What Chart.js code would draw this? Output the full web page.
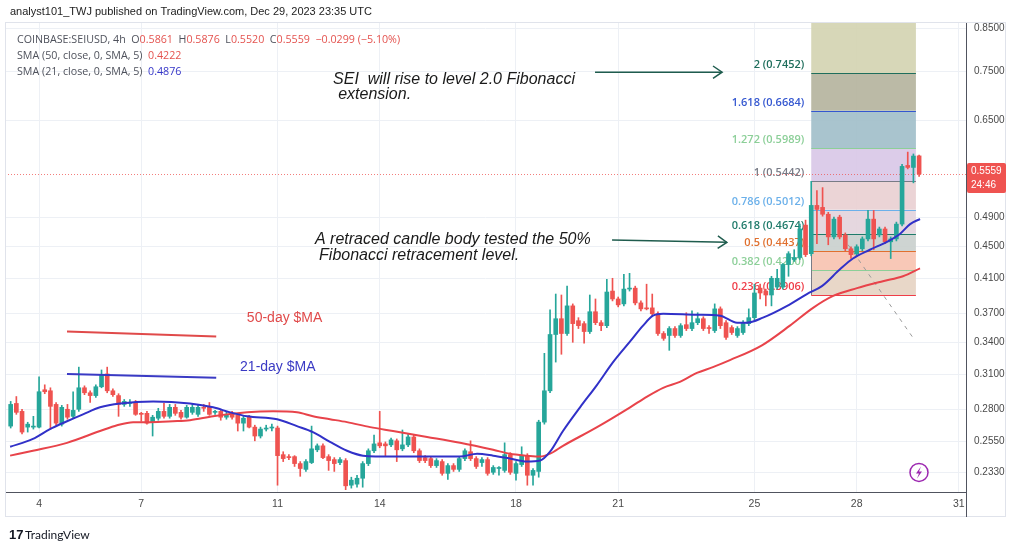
<!DOCTYPE html>
<html>
<head>
<meta charset="utf-8">
<script src="https://cdn.jsdelivr.net/npm/chart.js@4.4.1/dist/chart.umd.min.js"></script>
<style>
    html, body { margin: 0; padding: 0; background: #ffffff; }
    #wrap { position: relative; width: 1024px; height: 551px; }
</style>
</head>
<body>
<div id="wrap"><canvas id="seiChart" width="1024" height="551"></canvas></div>
<script>
// axis ticks
const dayTicks = [4, 7, 11, 14, 18, 21, 25, 28, 31];
const priceTicks = [0.85, 0.75, 0.65, 0.49, 0.45, 0.41, 0.37, 0.34, 0.31, 0.28, 0.255, 0.233];

// 4h candles, first one is Dec 3 04:00 (x axis is the day of December)
const candleStart = 3 + 4 / 24;
const candleStep = 4 / 24;

const openPrices = [
    .2666, .2848, .2783, .2658, .2658, .2658, .2964, .2955, .2840, .2681,
    .2800, .2743, .2800, .2981, .2938, .2914, .2990, .3104, .2955, .2914,
    .2840, .2848, .2856, .2767, .2767, .2697, .2728, .2783, .2743, .2816,
    .2775, .2736, .2775, .2759, .2816, .2824, .2775, .2783, .2736, .2767,
    .2751, .2689, .2736, .2658, .2590, .2643, .2651, .2651, .2453, .2439,
    .2439, .2390, .2350, .2397, .2488, .2517, .2439, .2418, .2397, .2411,
    .2244, .2251, .2290, .2390, .2481, .2539, .2531, .2524, .2554, .2495,
    .2524, .2583, .2481, .2432, .2425, .2376, .2404, .2323, .2376, .2350,
    .2425, .2474, .2425, .2397, .2418, .2330, .2356, .2343, .2453, .2323,
    .2383, .2446, .2310, .2336, .2697, .2955, .3482, .3646, .3492, .3785,
    .3625, .3594, .3512, .3721, .3604, .3573, .3952, .3862, .3807, .3975,
    .3986, .3818, .3763, .3763, .3699, .3492, .3472, .3543, .3472, .3583,
    .3543, .3604, .3646, .3553, .3522, .3752, .3604, .3553, .3472, .3502,
    .3594, .3657, .3986, .3952, .3907, .3998, .3998, .4270, .4333, .4358,
    .4790, .4407, .5073, .5044, .4944, .4628, .4902, .4655, .4471, .4407,
    .4471, .4601, .4874, .4655, .4736, .4562, .4601, .4804, .5700, .5667,
    .5861
];
const highPrices = [
    .2865, .2906, .2800, .2696, .2743, .3077, .3007, .2981, .2856, .2832,
    .2840, .2947, .3166, .2998, .2955, .3007, .3140, .3166, .2972, .2930,
    .2881, .2881, .2873, .2775, .2783, .2751, .2808, .2848, .2840, .2840,
    .2791, .2832, .2840, .2832, .2840, .2856, .2791, .2791, .2775, .2783,
    .2759, .2743, .2751, .2673, .2658, .2673, .2681, .2666, .2474, .2453,
    .2446, .2404, .2418, .2666, .2531, .2531, .2453, .2432, .2432, .2425,
    .2297, .2310, .2404, .2495, .2597, .2783, .2546, .2575, .2568, .2636,
    .2605, .2597, .2495, .2446, .2439, .2425, .2418, .2390, .2390, .2439,
    .2495, .2554, .2439, .2432, .2432, .2376, .2370, .2539, .2467, .2404,
    .2510, .2460, .2356, .2712, .3296, .3741, .3918, .3907, .4009, .3807,
    .3657, .3615, .3907, .3862, .3625, .4090, .4102, .3884, .4150, .4162,
    .4009, .3840, .4032, .3918, .3721, .3512, .3563, .3563, .3594, .3710,
    .3731, .3710, .3667, .3573, .3807, .3774, .3625, .3573, .3563, .3625,
    .3752, .4032, .4032, .3975, .4126, .4210, .4283, .4433, .4458, .4804,
    .4860, .5442, .5298, .5343, .4972, .4902, .4930, .4682, .4497, .4523,
    .4628, .4999, .4999, .4763, .4763, .4628, .4832, .5717, .5926, .5894,
    .5876
];
const lowPrices = [
    .2651, .2759, .2605, .2620, .2643, .2651, .2930, .2643, .2673, .2666,
    .2720, .2728, .2783, .2922, .2856, .2898, .2981, .2938, .2906, .2743,
    .2824, .2824, .2751, .2704, .2681, .2590, .2712, .2728, .2728, .2751,
    .2720, .2728, .2759, .2743, .2783, .2751, .2759, .2712, .2720, .2720,
    .2628, .2628, .2651, .2554, .2575, .2628, .2628, .2244, .2404, .2418,
    .2370, .2303, .2336, .2390, .2474, .2425, .2343, .2336, .2383, .2215,
    .2225, .2231, .2231, .2376, .2467, .2503, .2446, .2510, .2404, .2481,
    .2510, .2467, .2397, .2397, .2363, .2363, .2310, .2283, .2336, .2336,
    .2411, .2411, .2356, .2370, .2310, .2316, .2310, .2330, .2316, .2277,
    .2370, .2244, .2244, .2297, .2681, .2938, .3213, .3287, .3472, .3404,
    .3543, .3394, .3492, .3583, .3522, .3553, .3840, .3774, .3785, .3952,
    .3796, .3731, .3741, .3678, .3472, .3423, .3325, .3453, .3453, .3522,
    .3522, .3583, .3522, .3492, .3502, .3543, .3433, .3482, .3453, .3482,
    .3573, .3636, .3862, .3785, .3785, .3975, .3975, .4126, .4308, .4333,
    .4370, .4380, .4536, .4916, .4523, .4601, .4601, .4445, .4345, .4383,
    .4445, .4574, .4458, .4628, .4536, .4345, .4574, .4777, .5643, .5418,
    .5520
];
const closePrices = [
    .2840, .2775, .2620, .2681, .2666, .2947, .2947, .2824, .2689, .2816,
    .2736, .2791, .2981, .2938, .2914, .2990, .3095, .2955, .2922, .2840,
    .2865, .2856, .2759, .2759, .2689, .2736, .2783, .2743, .2816, .2767,
    .2736, .2816, .2816, .2816, .2808, .2759, .2783, .2736, .2759, .2736,
    .2689, .2728, .2658, .2590, .2643, .2651, .2658, .2446, .2425, .2432,
    .2390, .2356, .2404, .2495, .2517, .2432, .2411, .2390, .2418, .2240,
    .2277, .2290, .2390, .2481, .2531, .2517, .2517, .2561, .2488, .2524,
    .2583, .2481, .2411, .2411, .2376, .2411, .2323, .2376, .2350, .2425,
    .2481, .2425, .2370, .2418, .2323, .2363, .2363, .2453, .2330, .2390,
    .2446, .2310, .2343, .2697, .2955, .3482, .3646, .3492, .3785, .3594,
    .3573, .3512, .3721, .3604, .3573, .3941, .3862, .3796, .3975, .3986,
    .3818, .3752, .3752, .3699, .3492, .3443, .3543, .3472, .3573, .3543,
    .3604, .3646, .3543, .3543, .3752, .3573, .3453, .3502, .3543, .3604,
    .3657, .3930, .3930, .3907, .4102, .4102, .4270, .4407, .4358, .4736,
    .4395, .5073, .5014, .4944, .4628, .4874, .4628, .4471, .4395, .4497,
    .4601, .4874, .4601, .4736, .4562, .4601, .4804, .5684, .5667, .5858,
    .5559
];

// moving averages (day of December, price)
const sma50Days = [3.15, 3.82, 4.82, 5.79, 6.29, 6.76, 7.26, 7.93, 8.43, 9.11,
    10.11, 10.87, 11.57, 12.04, 12.54, 13.04, 13.72, 14.39, 15.39, 16.36,
    17.33, 17.82, 18.32, 18.71, 19.00, 19.38, 20.38, 21.35, 21.85, 22.32,
    22.81, 23.31, 23.78, 24.28, 25.22, 26.04, 26.72, 27.31, 28.01, 28.77,
    29.36, 29.86];
const sma50Values = [.2446, .2481, .2539, .2628, .2673, .2697, .2697, .2704, .2712, .2743,
    .2775, .2783, .2775, .2743, .2720, .2697, .2658, .2628, .2583, .2539,
    .2488, .2460, .2446, .2439, .2460, .2517, .2658, .2816, .2906, .2981,
    .3033, .3113, .3166, .3231, .3374, .3573, .3763, .3896, .3986, .4067,
    .4126, .4222];
const sma21Days = [3.15, 3.82, 4.32, 4.82, 5.29, 5.79, 6.38, 7.35, 8.43, 9.11,
    9.61, 10.11, 10.99, 11.57, 12.04, 12.54, 13.04, 13.51, 14.39, 15.39,
    16.36, 16.86, 17.33, 17.82, 18.32, 18.71, 19.00, 19.38, 19.88, 20.38,
    20.85, 21.35, 21.73, 22.02, 22.32, 23.31, 23.99, 24.49, 24.78, 25.25,
    25.96, 26.54, 26.98, 27.51, 27.89, 28.39, 28.89, 29.27, 29.57, 29.86];
const sma21Values = [.2510, .2568, .2643, .2704, .2759, .2816, .2848, .2865, .2848, .2816,
    .2775, .2743, .2720, .2666, .2620, .2546, .2481, .2446, .2439, .2439,
    .2439, .2460, .2446, .2425, .2404, .2411, .2474, .2628, .2816, .3007,
    .3213, .3413, .3573, .3678, .3699, .3688, .3678, .3604, .3604, .3657,
    .3785, .3918, .4009, .4210, .4345, .4458, .4562, .4668, .4804, .4876];

// fibonacci drawing
const fibLevels = [2.618, 2, 1.618, 1.272, 1, 0.786, 0.618, 0.5, 0.382, 0.236];
const fibPrices = [0.8694, 0.7452, 0.6684, 0.5989, 0.5442, 0.5012, 0.4674, 0.4437, 0.4200, 0.3906];
const fibStartDay = 26.667;
const fibEndDay = 29.74;

const upColor = '#26a69a';
const downColor = '#ef5350';
const fibFills = ['rgba(211,211,176,0.9)', 'rgba(180,179,156,0.9)', 'rgba(160,190,201,0.9)',
    'rgba(216,198,231,0.9)', 'rgba(233,207,210,0.9)', 'rgba(226,211,220,0.9)',
    'rgba(201,207,205,0.9)', 'rgba(247,194,175,0.9)', 'rgba(230,211,194,0.9)'];
const fibColors = ['#2e7d6b', '#1f6e5c', '#3457d0', '#8ccf98', '#787b86', '#6bb0ea',
    '#1f7a6a', '#e0702f', '#8ccf98', '#ef3d48'];

const candleTimes = openPrices.map((_, i) => candleStart + i * candleStep);
const candleColors = openPrices.map((o, i) => closePrices[i] >= o ? upColor : downColor);

function line(ctx, x0, y0, x1, y1) {
    ctx.beginPath();
    ctx.moveTo(x0, y0);
    ctx.lineTo(x1, y1);
    ctx.stroke();
}

function drawRuns(ctx, x, y, runs) {
    runs.forEach(run => {
        ctx.fillStyle = run[1];
        ctx.fillText(run[0], x, y);
        x += ctx.measureText(run[0]).width;
    });
}

function arrow(ctx, x0, y0, x1, y1) {
    line(ctx, x0, y0, x1, y1);
    const a = Math.atan2(y1 - y0, x1 - x0);
    ctx.beginPath();
    ctx.moveTo(x1 - 11 * Math.cos(a - 0.6), y1 - 11 * Math.sin(a - 0.6));
    ctx.lineTo(x1, y1);
    ctx.lineTo(x1 - 11 * Math.cos(a + 0.6), y1 - 11 * Math.sin(a + 0.6));
    ctx.stroke();
}

const chartOverlay = {
    id: 'chartOverlay',
    beforeDatasetsDraw(chart) {
        const ctx = chart.ctx;
        const area = chart.chartArea;
        const xs = chart.scales.x;
        const ys = chart.scales.y;
        ctx.save();
        ctx.beginPath();
        ctx.rect(area.left, area.top, area.right - area.left, area.bottom - area.top);
        ctx.clip();

        // fib bands
        const bx0 = xs.getPixelForValue(fibStartDay);
        const bx1 = xs.getPixelForValue(fibEndDay);
        for (let i = 0; i < fibPrices.length - 1; i++) {
            const y0 = ys.getPixelForValue(fibPrices[i]);
            const y1 = ys.getPixelForValue(fibPrices[i + 1]);
            ctx.fillStyle = fibFills[i];
            ctx.fillRect(bx0, y0, bx1 - bx0, y1 - y0);
        }
        ctx.lineWidth = 1;
        ctx.font = '600 11px "Open Sans"';
        ctx.textAlign = 'right';
        ctx.textBaseline = 'bottom';
        for (let i = 1; i < fibPrices.length; i++) {
            const y = Math.round(ys.getPixelForValue(fibPrices[i])) + 0.5;
            ctx.strokeStyle = fibColors[i];
            line(ctx, bx0, y, bx1, y);
            ctx.fillStyle = fibColors[i];
            ctx.fillText(fibLevels[i] + ' (' + fibPrices[i].toFixed(4) + ')', bx0 - 7, y - 3);
        }
        ctx.strokeStyle = '#787b86';
        line(ctx, Math.round(bx0) + 0.5, ys.getPixelForValue(fibPrices[4]),
            Math.round(bx0) + 0.5, ys.getPixelForValue(fibPrices[9]));

        // dashed trend line
        ctx.strokeStyle = '#9a9a9a';
        ctx.setLineDash([4, 5]);
        line(ctx, xs.getPixelForValue(27.75), ys.getPixelForValue(0.4523),
            xs.getPixelForValue(29.71), ys.getPixelForValue(0.3422));

        // last price line
        const lastClose = closePrices[closePrices.length - 1];
        const py = Math.round(ys.getPixelForValue(lastClose)) + 0.5;
        ctx.strokeStyle = 'rgba(239,83,80,0.75)';
        ctx.setLineDash([1, 2]);
        line(ctx, area.left, py, area.right, py);
        ctx.restore();
    },
    afterDraw(chart) {
        const ctx = chart.ctx;
        const area = chart.chartArea;
        const xs = chart.scales.x;
        const ys = chart.scales.y;
        const at = (d, p) => [xs.getPixelForValue(d), ys.getPixelForValue(p)];
        ctx.save();

        // frame
        ctx.strokeStyle = '#e0e3eb';
        ctx.lineWidth = 1;
        ctx.strokeRect(5.5, 22.5, 1000, 494);
        ctx.strokeStyle = '#50535e';
        line(ctx, area.right + 0.5, area.bottom, area.right + 0.5, 517);

        // header
        ctx.textAlign = 'left';
        ctx.textBaseline = 'middle';
        ctx.font = '11px "Liberation Sans"';
        ctx.fillStyle = '#222';
        ctx.fillText('analyst101_TWJ published on TradingView.com, Dec 29, 2023 23:35 UTC', 10, 12);

        // legend
        const n = closePrices.length - 1;
        const chg = closePrices[n] - closePrices[n - 1];
        const pct = chg / closePrices[n - 1] * 100;
        const grey = '#4f525c';
        const red = '#e4534f';
        ctx.font = '10.7px "Open Sans"';
        drawRuns(ctx, 17, 40, [
            ['COINBASE:SEIUSD, 4h  O', grey], [openPrices[n].toFixed(4), red],
            ['  H', grey], [highPrices[n].toFixed(4), red],
            ['  L', grey], [lowPrices[n].toFixed(4), red],
            ['  C', grey], [closePrices[n].toFixed(4), red],
            ['  \u2212' + Math.abs(chg).toFixed(4) + ' (\u2212' + Math.abs(pct).toFixed(2) + '%)', red]
        ]);
        drawRuns(ctx, 17, 56, [['SMA (50, close, 0, SMA, 5)  ', grey], [sma50Values[sma50Values.length - 1].toFixed(4), red]]);
        drawRuns(ctx, 17, 72, [['SMA (21, close, 0, SMA, 5)  ', grey], [sma21Values[sma21Values.length - 1].toFixed(4), '#3535c8']]);

        // notes
        ctx.fillStyle = '#1a1a1a';
        ctx.font = 'italic 16px "Liberation Sans"';
        let p = at(12.63, 0.733);
        ctx.fillText('SEI  will rise to level 2.0 Fibonacci', p[0], p[1]);
        p = at(12.78, 0.700);
        ctx.fillText('extension.', p[0], p[1]);
        p = at(12.10, 0.4588);
        ctx.fillText('A retraced candle body tested the 50%', p[0], p[1]);
        p = at(12.22, 0.4382);
        ctx.fillText('Fibonacci retracement level.', p[0], p[1]);

        ctx.strokeStyle = '#1f5c4e';
        ctx.lineWidth = 1.5;
        let a = at(20.32, 0.748), b = at(24.05, 0.748);
        arrow(ctx, a[0], a[1], b[0], b[1]);
        a = at(20.82, 0.4588); b = at(24.19, 0.4555);
        arrow(ctx, a[0], a[1], b[0], b[1]);

        ctx.font = '14px "Liberation Sans"';
        ctx.fillStyle = '#e04a4a';
        p = at(10.10, 0.3647);
        ctx.fillText('50-day $MA', p[0], p[1]);
        ctx.fillStyle = '#3a3ac4';
        p = at(9.90, 0.3167);
        ctx.fillText('21-day $MA', p[0], p[1]);
        ctx.lineWidth = 2;
        ctx.strokeStyle = '#e04a4a';
        a = at(4.82, 0.3512); b = at(9.20, 0.3462);
        line(ctx, a[0], a[1], b[0], b[1]);
        ctx.strokeStyle = '#3a3ac4';
        a = at(4.82, 0.3104); b = at(9.20, 0.3069);
        line(ctx, a[0], a[1], b[0], b[1]);

        // lightning badge
        p = at(29.83, 0.2329);
        ctx.strokeStyle = '#9c27b0';
        ctx.lineWidth = 1.5;
        ctx.beginPath();
        ctx.arc(p[0], p[1], 9, 0, Math.PI * 2);
        ctx.stroke();
        ctx.fillStyle = '#9c27b0';
        ctx.beginPath();
        ctx.moveTo(p[0] + 2, p[1] - 6);
        ctx.lineTo(p[0] - 3, p[1] + 1);
        ctx.lineTo(p[0], p[1] + 1);
        ctx.lineTo(p[0] - 2, p[1] + 6);
        ctx.lineTo(p[0] + 3, p[1] - 1);
        ctx.lineTo(p[0], p[1] - 1);
        ctx.closePath();
        ctx.fill();

        // last price tag
        const lastClose = closePrices[n];
        const ty = ys.getPixelForValue(lastClose);
        ctx.fillStyle = downColor;
        ctx.beginPath();
        ctx.roundRect(area.right + 1, ty - 11, 39, 30, 2);
        ctx.fill();
        ctx.fillStyle = '#ffffff';
        ctx.font = '10px "Liberation Sans"';
        ctx.textAlign = 'left';
        ctx.fillText(lastClose.toFixed(4), area.right + 5, ty - 3);
        ctx.fillText('24:46', area.right + 5, ty + 11);

        // footer logo
        ctx.fillStyle = '#131722';
        ctx.font = 'bold 13px "Liberation Sans"';
        ctx.fillText('17', 9, 535);
        ctx.font = '12px "Lato"';
        ctx.fillText('TradingView', 25, 535);
        ctx.restore();
    }
};

const ctx = document.getElementById('seiChart').getContext('2d');
const seiChart = new Chart(ctx, {
    type: 'bar',
    data: {
        datasets: [{
            type: 'line',
            label: 'SMA 21',
            data: sma21Days.map((d, i) => ({ x: d, y: sma21Values[i] })),
            borderColor: '#3131c8',
            borderWidth: 2,
            pointRadius: 0,
            cubicInterpolationMode: 'monotone',
            order: 0
        }, {
            type: 'line',
            label: 'SMA 50',
            data: sma50Days.map((d, i) => ({ x: d, y: sma50Values[i] })),
            borderColor: '#e8434a',
            borderWidth: 2,
            pointRadius: 0,
            cubicInterpolationMode: 'monotone',
            order: 1
        }, {
            label: 'bodies',
            data: candleTimes.map((t, i) => ({ x: t, y: [openPrices[i], closePrices[i]] })),
            backgroundColor: candleColors,
            barThickness: 4,
            minBarLength: 1,
            grouped: false,
            order: 2
        }, {
            label: 'wicks',
            data: candleTimes.map((t, i) => ({ x: t, y: [lowPrices[i], highPrices[i]] })),
            backgroundColor: candleColors,
            barThickness: 1,
            grouped: false,
            order: 3
        }]
    },
    options: {
        responsive: false,
        animation: false,
        layout: { padding: { left: 5, top: 22, right: 18, bottom: 34 } },
        plugins: {
            legend: { display: false },
            tooltip: { enabled: false }
        },
        scales: {
            x: {
                type: 'linear',
                min: 3.0,
                max: 31.21,
                offset: false,
                afterBuildTicks: scale => { scale.ticks = dayTicks.map(v => ({ value: v })); },
                afterFit: scale => { scale.height = 25; },
                ticks: {
                    autoSkip: false,
                    maxRotation: 0,
                    padding: 6,
                    color: '#4a4a4a',
                    font: { family: 'Liberation Sans', size: 10.5 },
                    callback: v => String(v)
                },
                grid: { color: '#edf0f5', drawTicks: false, offset: false },
                border: { color: '#50535e' }
            },
            y: {
                type: 'logarithmic',
                position: 'right',
                min: 0.2243,
                max: 0.8659,
                afterBuildTicks: scale => { scale.ticks = priceTicks.map(v => ({ value: v })); },
                afterFit: scale => { scale.width = 40; },
                ticks: {
                    autoSkip: false,
                    padding: 8,
                    color: '#4a4a4a',
                    font: { family: 'Liberation Sans', size: 10 },
                    callback: v => Number(v).toFixed(4)
                },
                grid: { color: '#edf0f5', drawTicks: false },
                border: { color: '#50535e' }
            }
        }
    },
    plugins: [chartOverlay]
});
</script>
</body>
</html>
